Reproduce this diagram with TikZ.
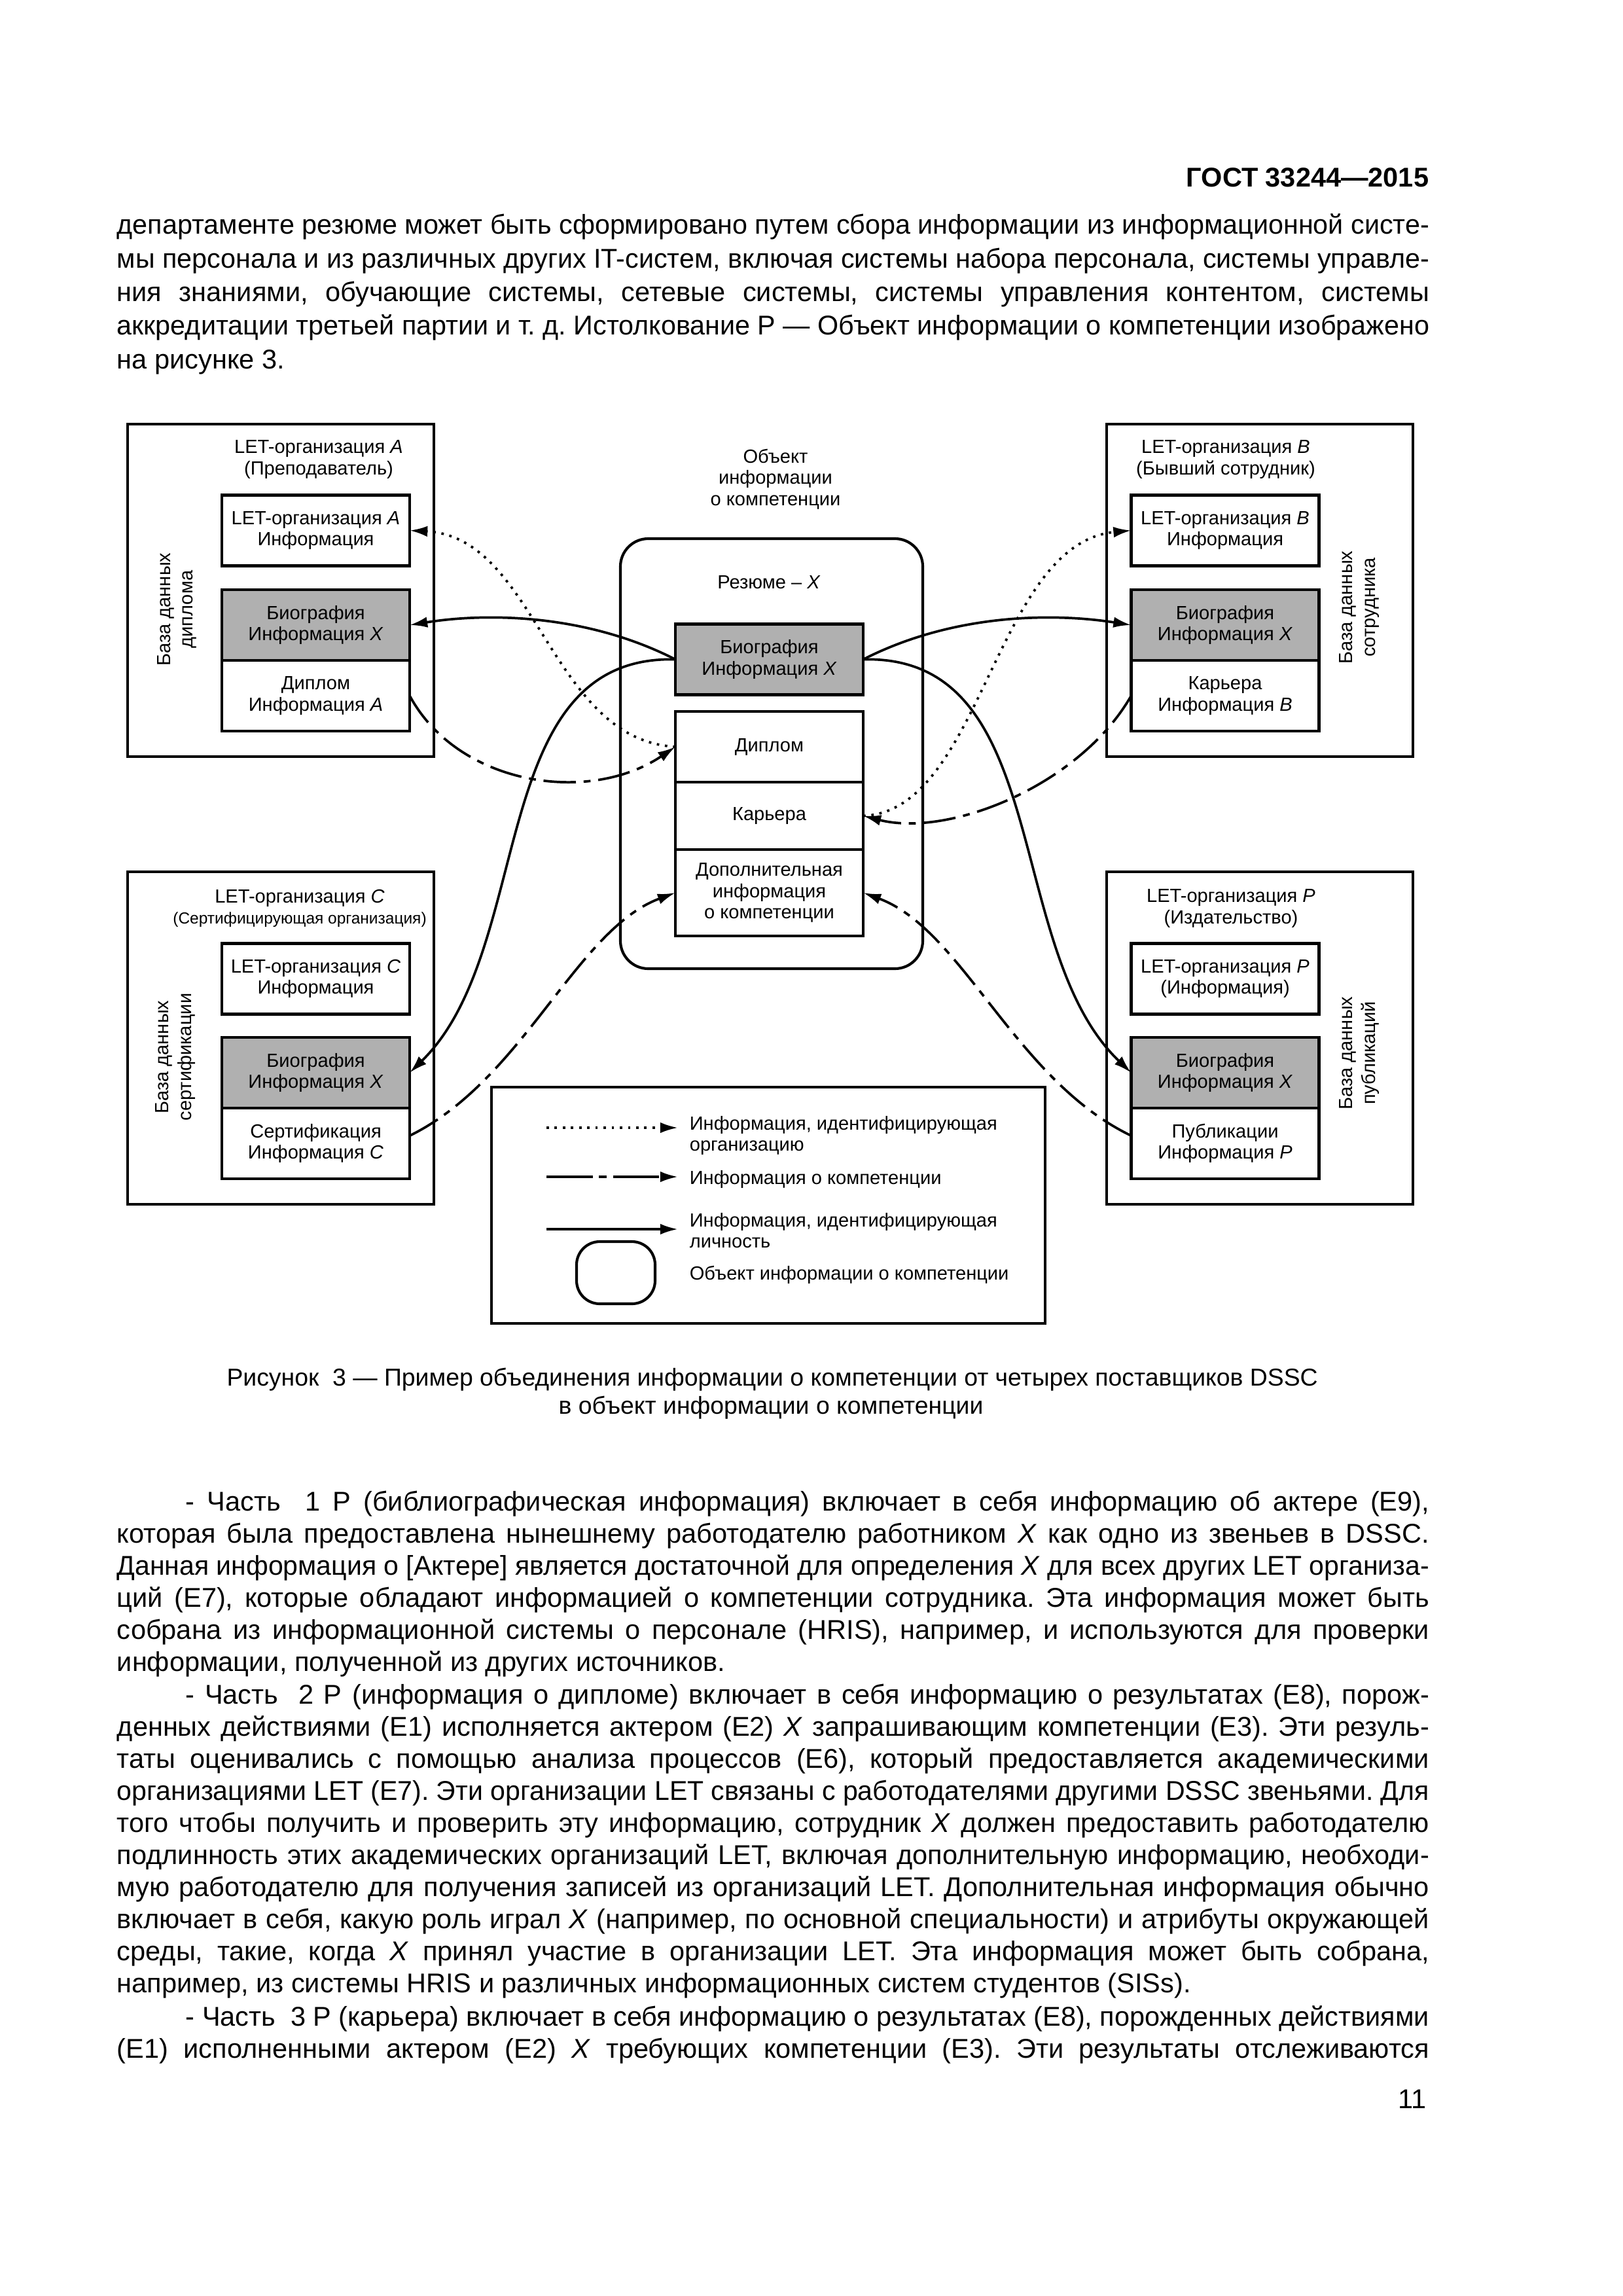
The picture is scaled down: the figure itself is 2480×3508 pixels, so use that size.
\documentclass[tikz,border=0pt]{standalone}
\usepackage{fontspec}
\setmainfont{Liberation Sans}
\usepackage{graphicx}
\usepackage{xcolor}
\usetikzlibrary{positioning,arrows.meta}

\definecolor{bioGray}{RGB}{176,176,176}
\newdimen\pxu \pxu=0.08467mm
\newlength\bodyw \setlength\bodyw{2005\pxu}
\newlength\indw \setlength\indw{1900\pxu}
\newcommand\bodyfont{\fontsize{10}{11.8}\selectfont\frenchspacing}
\newcommand\introfont{\fontsize{10}{12.37}\selectfont\frenchspacing}
\newcommand\diafont{\fontsize{7}{7.8}\selectfont}
% one justified line of body text
\newcommand\jline[2][\bodyw]{\sbox0{#2}\ifdim\wd0>#1\relax\resizebox{#1}{\height}{\usebox0}\else\makebox[#1][s]{#2}\fi}

\tikzset{
  orgbox/.style={draw, line width=1pt, inner sep=0pt, outer sep=0pt, minimum width=468\pxu, minimum height=508\pxu},
  infobox/.style={draw, line width=1pt, fill=white, inner sep=0pt, outer sep=0pt, minimum width=287\pxu, minimum height=108\pxu, align=center, font=\diafont},
  biobox/.style={infobox, fill=bioGray},
  dblabel/.style={rotate=90, align=center, font=\fontsize{7}{8.2}\selectfont},
  orgtitle/.style={align=center, font=\diafont},
  idorg/.style={line width=0.9pt, dash pattern=on 0.9pt off 2.1pt, -{Latex[length=2.3mm,width=1.4mm]}},
  compinfo/.style={line width=0.9pt, dash pattern=on 4.2mm off 1mm on 0.9mm off 1mm, -{Latex[length=2.3mm,width=1.4mm]}},
  idpers/.style={line width=0.9pt, -{Latex[length=2.3mm,width=1.4mm]}},
}

\begin{document}
\begin{tikzpicture}[x=0.08467mm, y=-0.08467mm]
  % Page
  \fill[white] (0,0) rectangle (2480,3508);
  \useasboundingbox (0,0) rectangle (2480,3508);

  % Header
  \node[anchor=base east, inner sep=0pt, font=\fontsize{10}{12}\selectfont\bfseries] (gost) at (2184,285) {ГОСТ 33244—2015};

  % Text above the figure
  \node[anchor=north west, inner sep=0pt, align=left, font=\introfont] (introText) at (178,319.5) {%
    \rule{0pt}{9pt}\jline{департаменте резюме может быть сформировано путем сбора информации из информационной систе-}\\
    \jline{мы персонала и из различных других IT-систем, включая системы набора персонала, системы управле-}\\
    \jline{ния знаниями, обучающие системы, сетевые системы, системы управления контентом, системы}\\
    \jline{аккредитации третьей партии и т. д. Истолкование Р — Объект информации о компетенции изображено}\\
    на рисунке 3.};

  % Database boxes
  \node[orgbox] (orgA) at (429,902) {};
  \node[orgbox] (orgB) at (1925,902) {};
  \node[orgbox] (orgC) at (429,1586) {};
  \node[orgbox] (orgP) at (1925,1586) {};

  \node[orgtitle] (titleA) at (487,702) {LET-организация \textit{A}\\(Преподаватель)};
  \node[orgtitle] (titleB) at (1873,702) {LET-организация \textit{B}\\(Бывший сотрудник)};
  \node[orgtitle] (titleC) at (458,1388) {LET-организация \textit{C}\\{\fontsize{5.9}{7}\selectfont(Сертифицирующая организация)}};
  \node[orgtitle] (titleP) at (1881,1388) {LET-организация \textit{P}\\(Издательство)};

  % Organisation A
  \node[infobox] (infoA) at (482.5,810.5) {LET-организация \textit{A}\\Информация};
  \node[biobox] (bioA) at (482.5,955) {Биография\\Информация \textit{X}};
  \node[infobox, below=0pt of bioA] (dipA) {Диплом\\Информация \textit{A}};
  % Organisation B
  \node[infobox] (infoB) at (1872,810.5) {LET-организация \textit{B}\\Информация};
  \node[biobox] (bioB) at (1872,955) {Биография\\Информация \textit{X}};
  \node[infobox, below=0pt of bioB] (carB) {Карьера\\Информация \textit{B}};
  % Organisation C
  \node[infobox] (infoC) at (482.5,1495.5) {LET-организация \textit{C}\\Информация};
  \node[biobox] (bioC) at (482.5,1639) {Биография\\Информация \textit{X}};
  \node[infobox, below=0pt of bioC] (certC) {Сертификация\\Информация \textit{C}};
  % Organisation P
  \node[infobox] (infoP) at (1872,1495.5) {LET-организация \textit{P}\\(Информация)};
  \node[biobox] (bioP) at (1872,1639) {Биография\\Информация \textit{X}};
  \node[infobox, below=0pt of bioP] (pubP) {Публикации\\Информация \textit{P}};

  \node[dblabel] (dbA) at (270,931) {База данных\\диплома};
  \node[dblabel] (dbB) at (2077,928) {База данных\\сотрудника};
  \node[dblabel] (dbC) at (268,1615) {База данных\\сертификации};
  \node[dblabel] (dbP) at (2077,1609) {База данных\\публикаций};

  % Competence information object
  \node[orgtitle] (objTitle) at (1185,732) {Объект\\информации\\о компетенции};
  \node[draw, line width=1pt, rounded corners=3.6mm, inner sep=0pt, minimum width=462\pxu, minimum height=657\pxu] (cv) at (1179,1151.5) {};
  \node[font=\diafont] (cvTitle) at (1175,890) {Резюме – \textit{X}};
  \node[biobox] (ctrBio) at (1175.5,1007.5) {Биография\\Информация \textit{X}};
  \node[infobox] (ctrDip) at (1175.5,1141) {Диплом};
  \node[infobox, minimum height=103\pxu, below=0pt of ctrDip] (ctrCar) {Карьера};
  \node[infobox, minimum height=132\pxu, below=0pt of ctrCar] (ctrAdd) {Дополнительная\\информация\\о компетенции};

  % Flows into the object
  \draw[idorg] (ctrDip.west) .. controls (840,1130) and (820,820) .. (infoA.east);
  \draw[compinfo] (dipA.east) .. controls (700,1200) and (900,1230) .. (ctrDip.west);
  \draw[idpers] (ctrBio.west) .. controls (900,940) and (750,935) .. (bioA.east);
  \draw[idpers] (ctrBio.west) .. controls (740,1000) and (820,1450) .. (bioC.east);
  \draw[idpers] (ctrBio.east) .. controls (1451,940) and (1601,935) .. (bioB.west);
  \draw[idpers] (ctrBio.east) .. controls (1611,1000) and (1531,1450) .. (bioP.west);
  \draw[idorg] (ctrCar.east) .. controls (1500,1240) and (1520,830) .. (infoB.west);
  \draw[compinfo] (carB.west) .. controls (1650,1200) and (1450,1280) .. (ctrCar.east);
  \draw[compinfo] ([yshift=1mm]certC.east) .. controls (800,1650) and (880,1420) .. (ctrAdd.west);
  \draw[compinfo] ([yshift=1mm]pubP.west) .. controls (1551,1650) and (1471,1420) .. (ctrAdd.east);

  % Legend
  \node[draw, line width=1pt, inner sep=0pt, minimum width=846\pxu, minimum height=361\pxu] (lgd) at (1174,1841.5) {};
  \coordinate (lgA1) at (835,1723); \coordinate (lgA2) at (1036,1723);
  \coordinate (lgB1) at (835,1798); \coordinate (lgB2) at (1036,1798);
  \coordinate (lgC1) at (835,1878); \coordinate (lgC2) at (1036,1878);
  \draw[idorg] (lgA1) -- (lgA2);
  \draw[compinfo, dash pattern=on 6mm off 0.8mm on 1mm off 0.8mm] (lgB1) -- (lgB2);
  \draw[idpers] (lgC1) -- (lgC2);
  \node[anchor=west, align=left, inner sep=0pt, font=\diafont] (lgTxtA) at (1053,1735) {Информация, идентифицирующая\\организацию};
  \node[anchor=west, inner sep=0pt, font=\diafont] (lgTxtB) at (1053,1802) {Информация о компетенции};
  \node[anchor=west, align=left, inner sep=0pt, font=\diafont] (lgTxtC) at (1053,1880) {Информация, идентифицирующая\\личность};
  \node[draw, line width=1pt, rounded corners=3mm, inner sep=0pt, minimum width=120\pxu, minimum height=95\pxu] (lgObj) at (941,1944.5) {};
  \node[anchor=west, inner sep=0pt, font=\diafont] (lgTxtD) at (1053,1948) {Объект информации о компетенции};

  % Caption
  \node[anchor=base, inner sep=0pt, font=\fontsize{9}{11}\selectfont] (figCap1) at (1180,2117) {Рисунок\ \ 3 — Пример объединения информации о компетенции от четырех поставщиков DSSC};
  \node[anchor=base, inner sep=0pt, font=\fontsize{9}{11}\selectfont] (figCap2) at (1178,2160) {в объект информации о компетенции};

  % Text below the figure
  \node[anchor=north west, inner sep=0pt, align=left, font=\bodyfont] (partOne) at (178,2270.5) {%
    \rule{0pt}{9pt}\hspace*{105\pxu}\jline[\indw]{- Часть\ \ 1 P (библиографическая информация) включает в себя информацию об актере (E9),}\\
    \jline{которая была предоставлена нынешнему работодателю работником \textit{X} как одно из звеньев в DSSC.}\\
    \jline{Данная информация о [Актере] является достаточной для определения \textit{X} для всех других LET организа-}\\
    \jline{ций (E7), которые обладают информацией о компетенции сотрудника. Эта информация может быть}\\
    \jline{собрана из информационной системы о персонале (HRIS), например, и используются для проверки}\\
    информации, полученной из других источников.};
  \node[anchor=north west, inner sep=0pt, align=left, font=\bodyfont] (partTwo) at (178,2565.4) {%
    \rule{0pt}{9pt}\hspace*{105\pxu}\jline[\indw]{- Часть\ \ 2 P (информация о дипломе) включает в себя информацию о результатах (E8), порож-}\\
    \jline{денных действиями (E1) исполняется актером (E2) \textit{X} запрашивающим компетенции (E3). Эти резуль-}\\
    \jline{таты оценивались с помощью анализа процессов (E6), который предоставляется академическими}\\
    \jline{организациями LET (E7). Эти организации LET связаны с работодателями другими DSSC звеньями. Для}\\
    \jline{того чтобы получить и проверить эту информацию, сотрудник \textit{X} должен предоставить работодателю}\\
    \jline{подлинность этих академических организаций LET, включая дополнительную информацию, необходи-}\\
    \jline{мую работодателю для получения записей из организаций LET. Дополнительная информация обычно}\\
    \jline{включает в себя, какую роль играл \textit{X} (например, по основной специальности) и атрибуты окружающей}\\
    \jline{среды, такие, когда \textit{X} принял участие в организации LET. Эта информация может быть собрана,}\\
    например, из системы HRIS и различных информационных систем студентов (SISs).};
  \node[anchor=north west, inner sep=0pt, align=left, font=\bodyfont] (partThree) at (178,3056.9) {%
    \rule{0pt}{9pt}\hspace*{105\pxu}\jline[\indw]{- Часть\ \ 3 P (карьера) включает в себя информацию о результатах (E8), порожденных действиями}\\
    \jline{(E1) исполненными актером (E2) \textit{X} требующих компетенции (E3). Эти результаты отслеживаются}};

  % Page number
  \node[anchor=base east, inner sep=0pt, font=\bodyfont] (pageNo) at (2180,3221) {11};
\end{tikzpicture}
\end{document}
